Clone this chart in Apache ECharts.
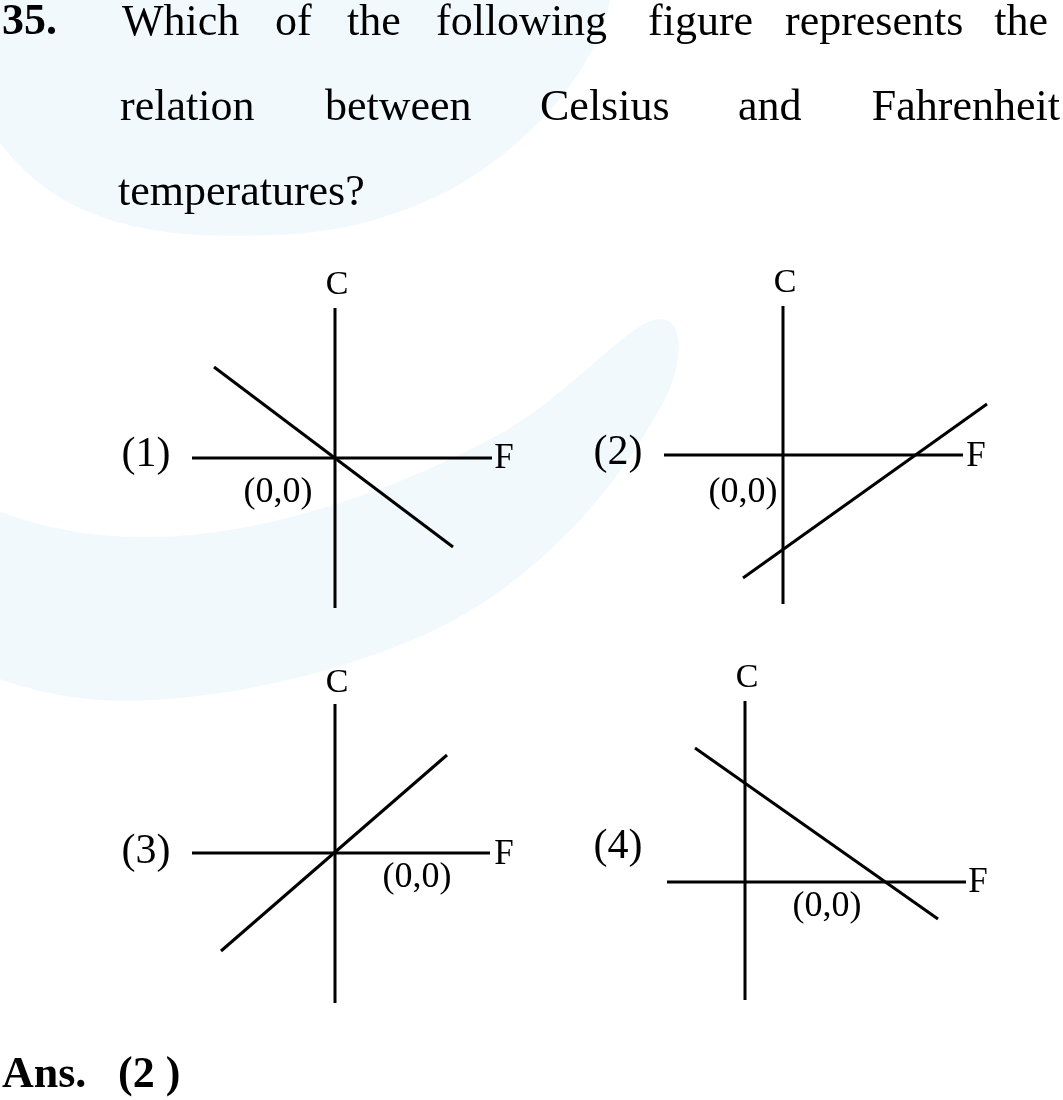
<!DOCTYPE html>
<html><head><meta charset="utf-8">
<script src="https://cdn.jsdelivr.net/npm/echarts@6/dist/echarts.min.js"></script>
<style>html,body{margin:0;padding:0;background:#fff}#c{width:1063px;height:1100px}</style>
</head><body><div id="c"></div>
<script>
// ---------- DATA (in diagram units; origin = (0,0)) ----------
const questionNumber = '35.';
const line1Words = ['Which', 'of', 'the', 'following', 'figure', 'represents', 'the'];
const line2Words = ['relation', 'between', 'Celsius', 'and', 'Fahrenheit'];
const line3Words = ['temperatures?'];
const answerWords = ['Ans.', '(2 )'];
const panelNames = ['(1)', '(2)', '(3)', '(4)'];
const axisNames = ['F', 'C'];
const originText = '(0,0)';

// F axis (horizontal) end points per panel
const fAxis1 = [[-143, 0], [157, 0]];
const fAxis2 = [[-119, 0], [180, 0]];
const fAxis3 = [[-143, 0], [155, 0]];
const fAxis4 = [[-78, 0], [221, 0]];
// C axis (vertical) end points per panel
const cAxis1 = [[0, -150], [0, 150]];
const cAxis2 = [[0, -149], [0, 149]];
const cAxis3 = [[0, -150], [0, 149]];
const cAxis4 = [[0, -118], [0, 181]];
// relation line per panel
const relation1 = [[-121, 91], [118, -89]];
const relation2 = [[-40, -123], [204, 51]];
const relation3 = [[-114, -98], [112, 98]];
const relation4 = [[-50, 134], [193, -37]];
// label anchor points per panel: [F label, C label, origin label, panel name]
const labels1 = [[169, -1], [2, 173], [-57, -35], [-189, 3]];
const labels2 = [[193, -2], [2, 172], [-40, -38], [-165, 2]];
const labels3 = [[169, -2], [2, 170], [82, -25], [-189, 1]];
const labels4 = [[233, -1], [2, 204], [82, -25], [-127, 35]];

// ---------- LAYOUT ----------
const FONT = '"Liberation Serif", "Times New Roman", serif';
const PALE = '#f2f9fd';
const origins = [[335, 458], [783, 455], [335, 853], [745, 882]];
const fAxes = [fAxis1, fAxis2, fAxis3, fAxis4];
const cAxes = [cAxis1, cAxis2, cAxis3, cAxis4];
const relations = [relation1, relation2, relation3, relation4];
const labelSets = [labels1, labels2, labels3, labels4];

const XMIN = -200, XMAX = 250, YMIN = -200, YMAX = 220;
const grids = [], xAxes = [], yAxes = [], series = [];
origins.forEach((o, i) => {
  grids.push({ left: o[0] + XMIN, top: o[1] - YMAX, width: XMAX - XMIN, height: YMAX - YMIN, containLabel: false });
  xAxes.push({ type: 'value', gridIndex: i, min: XMIN, max: XMAX, show: false });
  yAxes.push({ type: 'value', gridIndex: i, min: YMIN, max: YMAX, show: false });
  const lineStyle = { color: '#000', width: 3, cap: 'butt', opacity: 1 };
  [fAxes[i], cAxes[i], relations[i]].forEach(d => {
    series.push({ type: 'line', xAxisIndex: i, yAxisIndex: i, data: d, symbol: 'none',
      lineStyle, silent: true, z: 3 });
  });
  const L = labelSets[i];
  const texts = [axisNames[0], axisNames[1], originText, panelNames[i]];
  const sizes = [35, 34, 36, 42];
  series.push({
    type: 'scatter', xAxisIndex: i, yAxisIndex: i, symbolSize: 1, silent: true, z: 4,
    itemStyle: { color: 'transparent', opacity: 1 },
    data: L.map((p, k) => ({
      value: p,
      label: { show: true, position: 'inside', formatter: texts[k], color: '#000', opacity: 1,
        fontFamily: FONT, fontSize: sizes[k] }
    }))
  });
});

// sample cubic bezier segments into polygon points (background decoration only)
function bez(start, segs) {
  const pts = [start];
  let p0 = start;
  segs.forEach(s => {
    const [c1, c2, p3] = s;
    for (let k = 1; k <= 16; k++) {
      const t = k / 16, u = 1 - t;
      pts.push([u*u*u*p0[0] + 3*u*u*t*c1[0] + 3*u*t*t*c2[0] + t*t*t*p3[0],
                u*u*u*p0[1] + 3*u*u*t*c1[1] + 3*u*t*t*c2[1] + t*t*t*p3[1]]);
    }
    p0 = p3;
  });
  return pts;
}
const blobPts = [[-10, -10], [612, -10]].concat(
  bez([610, 0], [[[600, 60], [540, 140], [450, 190]], [[390, 220], [330, 235], [267, 235]], [[160, 240], [60, 225], [0, 143]]]),
  [[-10, 135]]);
const swooshPts = bez([-10, 508], [
  [[60, 535], [110, 537], [150, 537]],
  [[260, 537], [400, 490], [507, 430]],
  [[580, 385], [630, 320], [660, 319]],
  [[690, 318], [680, 380], [657, 413]],
  [[610, 500], [520, 600], [400, 645]],
  [[300, 685], [180, 705], [100, 700]],
  [[60, 697], [20, 688], [-10, 675]]
]);

const graphic = [];
graphic.push({ type: 'polygon', z: -10, silent: true, shape: { points: blobPts }, style: { fill: PALE } });
graphic.push({ type: 'polygon', z: -10, silent: true, shape: { points: swooshPts }, style: { fill: PALE } });

function word(text, x, y) {
  return {
    type: 'text', x, y, z: 10, silent: true,
    style: { text, fontFamily: FONT, fontSize: 44, fill: '#000', verticalAlign: 'middle', align: 'left' }
  };
}
const BL = 14; // baseline offset from middle
const qn = word(questionNumber, 2, 37 - BL); qn.style.fontWeight = 'bold'; graphic.push(qn);
const l1x = [122, 275, 347, 436, 648, 785, null];
line1Words.forEach((w, k) => {
  const g = word(w, l1x[k] === null ? 1048 : l1x[k], 37 - BL);
  if (l1x[k] === null) g.style.align = 'right';
  graphic.push(g);
});
const l2x = [120, 325, 540, 738, null];
line2Words.forEach((w, k) => {
  const g = word(w, l2x[k] === null ? 1060 : l2x[k], 122 - BL);
  if (l2x[k] === null) g.style.align = 'right';
  graphic.push(g);
});
line3Words.forEach(w => graphic.push(word(w, 118, 207 - BL)));
const ax = [2, 118];
answerWords.forEach((w, k) => {
  const g = word(w, ax[k], 1090 - BL);
  g.style.fontWeight = 'bold';
  graphic.push(g);
});

const chart = echarts.init(document.getElementById('c'), null, { renderer: 'canvas' });
chart.setOption({
  animation: false,
  backgroundColor: '#ffffff',
  graphic, grid: grids, xAxis: xAxes, yAxis: yAxes, series
});
</script></body></html>
